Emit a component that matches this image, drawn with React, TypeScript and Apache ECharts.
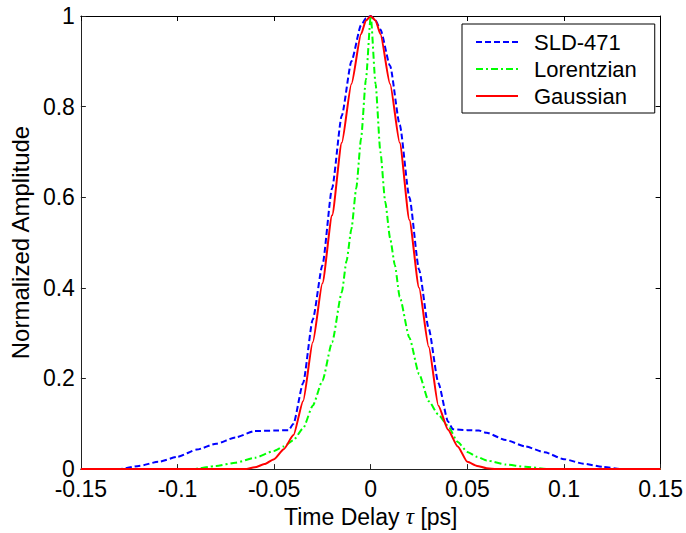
import React, { useEffect, useRef } from "react";
import * as echarts from "echarts";

const seriesNames = ["SLD-471", "Lorentzian", "Gaussian"];

const sldDelay = [-0.15, -0.13, -0.12, -0.11, -0.1, -0.09, -0.08, -0.07, -0.06, -0.05, -0.0425, -0.04, -0.035, -0.03, -0.025, -0.02, -0.015, -0.01, -0.005, -0.0025, 0, 0.0025, 0.005, 0.01, 0.015, 0.02, 0.025, 0.03, 0.035, 0.04, 0.0425, 0.05, 0.056, 0.06, 0.07, 0.08, 0.09, 0.1, 0.11, 0.12, 0.13, 0.15];
const sldAmp = [0, 0, 0.007, 0.016, 0.027, 0.043, 0.056, 0.07, 0.084, 0.085, 0.086, 0.1, 0.19, 0.33, 0.45, 0.62, 0.78, 0.9, 0.98, 0.995, 1, 0.99, 0.97, 0.89, 0.76, 0.6, 0.44, 0.31, 0.19, 0.105, 0.088, 0.086, 0.085, 0.08, 0.064, 0.05, 0.037, 0.022, 0.012, 0.005, 0, 0];

const lorDelay = [-0.15, -0.092, -0.08, -0.07, -0.06, -0.05, -0.045, -0.04, -0.035, -0.03, -0.025, -0.02, -0.015, -0.0125, -0.01, -0.0075, -0.005, -0.0025, 0, 0.0025, 0.005, 0.0075, 0.01, 0.0125, 0.015, 0.02, 0.025, 0.03, 0.035, 0.04, 0.045, 0.05, 0.055, 0.06, 0.07, 0.08, 0.092, 0.15];
const lorAmp = [0, 0, 0.007, 0.014, 0.025, 0.04, 0.05, 0.064, 0.09, 0.14, 0.195, 0.28, 0.39, 0.46, 0.53, 0.62, 0.73, 0.86, 1, 0.85, 0.7, 0.59, 0.51, 0.45, 0.38, 0.29, 0.21, 0.15, 0.12, 0.095, 0.06, 0.038, 0.027, 0.019, 0.01, 0.005, 0, 0];

const gauDelay = [-0.15, -0.065, -0.06, -0.055, -0.05, -0.045, -0.04, -0.035, -0.03, -0.025, -0.02, -0.015, -0.01, -0.005, -0.0025, 0, 0.0025, 0.005, 0.01, 0.015, 0.02, 0.025, 0.03, 0.035, 0.04, 0.045, 0.05, 0.055, 0.06, 0.065, 0.15];
const gauAmp = [0, 0, 0.004, 0.011, 0.022, 0.044, 0.075, 0.15, 0.28, 0.41, 0.56, 0.72, 0.85, 0.96, 0.99, 1, 0.99, 0.96, 0.85, 0.72, 0.55, 0.4, 0.27, 0.14, 0.087, 0.05, 0.016, 0.007, 0.002, 0, 0];

const xTitle = "Time Delay";
const yTitle = "Normalized Amplitude";

const FONT = "'Liberation Sans', Arial, sans-serif";

function pairs(xs: number[], ys: number[]) {
  return xs.map((x, i) => [x, ys[i]]);
}

export default function App() {
  const ref = useRef<HTMLDivElement>(null);
  useEffect(() => {
    if (!ref.current) return;
    const chart = echarts.init(ref.current, undefined, { renderer: "svg" });
    const axisColor = "#222";
    const fmt = (v: number) => String(+v.toFixed(2));
    chart.setOption({
      animation: false,
      backgroundColor: "#fff",
      textStyle: { fontFamily: FONT },
      grid: { left: 77, right: 23, top: 16, bottom: 63, show: false },
      legend: {
        orient: "vertical",
        left: 462,
        top: 24,
        data: seriesNames,
        itemWidth: 42,
        itemHeight: 14,
        itemGap: 5,
        padding: [7, 18, 6, 13],
        borderColor: "#000",
        borderWidth: 1,
        backgroundColor: "#fff",
        borderRadius: 0,
        itemStyle: { opacity: 0 },
        textStyle: { fontSize: 22, fontFamily: FONT, color: "#000", lineHeight: 22, padding: [0, 0, 0, 11] },
      },
      xAxis: [
        {
          type: "value",
          min: -0.15,
          max: 0.15,
          interval: 0.05,
          name: xTitle + " {i|τ} [ps]",
          nameLocation: "middle",
          nameGap: 35,
          nameTextStyle: {
            fontSize: 23,
            color: "#000",
            fontFamily: FONT,
            verticalAlign: "top",
            rich: { i: { fontSize: 23, fontStyle: "italic", fontFamily: "'Liberation Serif', 'Times New Roman', serif", color: "#000" } },
          },
          axisLine: { show: true, onZero: false, lineStyle: { color: axisColor, width: 1 } },
          axisTick: { show: true, inside: true, length: 5, lineStyle: { color: axisColor } },
          axisLabel: { fontSize: 23, color: "#000", margin: 8, formatter: fmt, fontFamily: FONT },
          splitLine: { show: false },
        },
        {
          type: "value",
          position: "top",
          min: -0.15,
          max: 0.15,
          interval: 0.05,
          axisLine: { show: true, onZero: false, lineStyle: { color: "#000", width: 1 } },
          axisTick: { show: true, inside: true, length: 5, lineStyle: { color: "#000" } },
          axisLabel: { show: false },
          splitLine: { show: false },
        },
      ],
      yAxis: [
        {
          type: "value",
          min: 0,
          max: 1,
          interval: 0.2,
          name: yTitle,
          nameLocation: "middle",
          nameGap: 46,
          nameRotate: 90,
          nameTextStyle: { fontSize: 24, color: "#000", fontFamily: FONT },
          axisLine: { show: true, onZero: false, lineStyle: { color: axisColor, width: 1 } },
          axisTick: { show: true, inside: true, length: 5, lineStyle: { color: axisColor } },
          axisLabel: { fontSize: 23, color: "#000", margin: 6, formatter: fmt, fontFamily: FONT },
          splitLine: { show: false },
        },
        {
          type: "value",
          position: "right",
          min: 0,
          max: 1,
          interval: 0.2,
          axisLine: { show: true, onZero: false, lineStyle: { color: "#000", width: 1 } },
          axisTick: { show: true, inside: true, length: 5, lineStyle: { color: "#000" } },
          axisLabel: { show: false },
          splitLine: { show: false },
        },
      ],
      series: [
        {
          name: seriesNames[0],
          type: "line",
          data: pairs(sldDelay, sldAmp),
          showSymbol: false,
          symbol: "none",
          smooth: 0.2,
          smoothMonotone: "x",
          color: "#0000ff",
          lineStyle: { color: "#0000ff", width: 2, type: [6, 3] },
          z: 3,
        },
        {
          name: seriesNames[1],
          type: "line",
          data: pairs(lorDelay, lorAmp),
          showSymbol: false,
          symbol: "none",
          smooth: 0.2,
          smoothMonotone: "x",
          color: "#00ff00",
          lineStyle: { color: "#00ff00", width: 2, type: [7, 3, 2, 3] },
          z: 4,
        },
        {
          name: seriesNames[2],
          type: "line",
          data: pairs(gauDelay, gauAmp),
          showSymbol: false,
          symbol: "none",
          smooth: 0.2,
          smoothMonotone: "x",
          color: "#ff0000",
          lineStyle: { color: "#ff0000", width: 2 },
          z: 5,
        },
      ],
    });
    return () => chart.dispose();
  }, []);
  return <div ref={ref} style={{ width: 686, height: 533, position: "absolute", left: 0, top: 0 }} />;
}
